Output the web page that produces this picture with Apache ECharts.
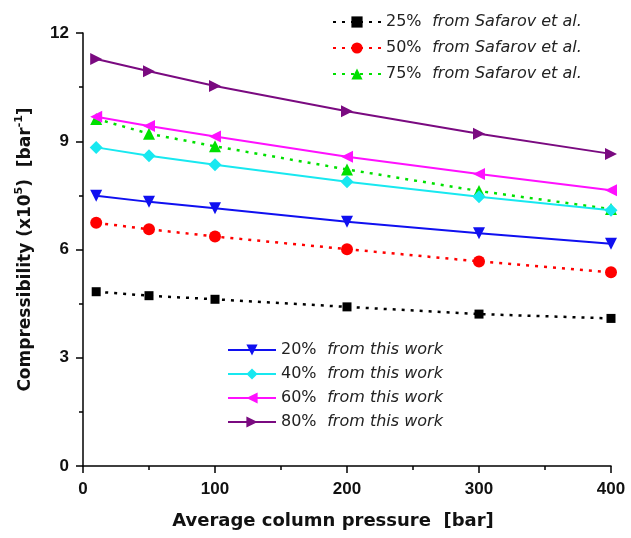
<!DOCTYPE html>
<html>
<head>
<meta charset="utf-8">
<script src="https://cdn.jsdelivr.net/npm/echarts@6/dist/echarts.min.js"></script>
<style>
  html, body { margin: 0; padding: 0; background: #fff; }
  #chart { width: 631px; height: 538px; }
</style>
</head>
<body>
<div id="chart"></div>
<script>
// Compressibility vs average column pressure
const pressure = [10, 50, 100, 200, 300, 400];

// literature (dotted)
const saf25 = [4.83, 4.72, 4.62, 4.41, 4.21, 4.09];
const saf50 = [6.74, 6.56, 6.36, 6.01, 5.67, 5.37];
const saf75 = [9.62, 9.21, 8.86, 8.22, 7.62, 7.12];

// this work (solid)
const work20 = [7.49, 7.32, 7.14, 6.77, 6.45, 6.16];
const work40 = [8.83, 8.60, 8.35, 7.88, 7.46, 7.09];
const work60 = [9.68, 9.42, 9.13, 8.57, 8.09, 7.64];
const work80 = [11.28, 10.94, 10.53, 9.83, 9.21, 8.65];

const safNames  = ['25%', '50%', '75%'];
const workNames = ['20%', '40%', '60%', '80%'];

const FONT  = 'Liberation Sans, Arial, sans-serif';
const WIDE  = 'DejaVu Sans, sans-serif';
const pts = arr => arr.map((v, i) => [pressure[i], v]);

function line(name, data, color, symbol, size, dotted, rot) {
  return {
    name, type: 'line', data: pts(data),
    symbol, symbolSize: size, symbolRotate: rot || 0,
    itemStyle: { color },
    lineStyle: { color, width: dotted ? 2.5 : 2, type: dotted ? [3, 6] : 'solid' },
    z: dotted ? 3 : 4,
  };
}

const series = [
  line('25%', saf25, '#000000', 'rect', 9, true),
  line('50%', saf50, '#ff0000', 'circle', 12, true),
  line('75%', saf75, '#00e000', 'triangle', 12, true),
  line('20%', work20, '#1010f0', 'triangle', 12, false, 180),
  line('40%', work40, '#18e8f0', 'diamond', 13, false),
  line('60%', work60, '#ff10ff', 'triangle', 12, false, 90),
  line('80%', work80, '#7a0a80', 'triangle', 12, false, -90),
];

const legendRich = {
  a: { fontFamily: WIDE, fontSize: 16, color: '#222' },
  b: { fontFamily: WIDE, fontSize: 16, fontStyle: 'italic', color: '#222', padding: [0, 0, 0, 4] },
};

const chart = echarts.init(document.getElementById('chart'), null, { renderer: 'canvas' });
chart.setOption({
  backgroundColor: '#fff', animation: false,
  textStyle: { fontFamily: FONT },
  grid: { left: 83, right: 20, top: 33, bottom: 72, containLabel: false },
  xAxis: {
    type: 'value', min: 0, max: 400, interval: 100,
    name: 'Average column pressure  [bar]', nameLocation: 'middle', nameGap: 46,
    nameTextStyle: { fontFamily: WIDE, fontSize: 18, fontWeight: 'bold', color: '#111', padding: [0, 28, 0, 0] },
    axisLine: { onZero: false, lineStyle: { color: '#000', width: 1.5 } },
    axisTick: { show: true, length: 7, inside: false, lineStyle: { color: '#000', width: 1.5 } },
    minorTick: { show: true, splitNumber: 2, length: 4, lineStyle: { color: '#000', width: 1.5 } },
    axisLabel: { fontFamily: FONT, fontSize: 17, fontWeight: 'bold', color: '#111', margin: 15 },
    splitLine: { show: false },
  },
  yAxis: {
    type: 'value', min: 0, max: 12, interval: 3,
    name: 'Compressibility (x10{s|5})  [bar{s|-1}]', nameLocation: 'middle', nameGap: 45, nameRotate: 90,
    nameTextStyle: {
      fontFamily: WIDE, fontSize: 17, fontWeight: 'bold', color: '#111',
      rich: { s: { fontFamily: WIDE, fontSize: 11, fontWeight: 'bold', color: '#111', verticalAlign: 'top', lineHeight: 24 } },
    },
    axisLine: { onZero: false, lineStyle: { color: '#000', width: 1.5 } },
    axisTick: { show: true, length: 7, lineStyle: { color: '#000', width: 1.5 } },
    minorTick: { show: true, splitNumber: 2, length: 4, lineStyle: { color: '#000', width: 1.5 } },
    axisLabel: { fontFamily: FONT, fontSize: 17, fontWeight: 'bold', color: '#111', margin: 14 },
    splitLine: { show: false },
  },
  legend: [
    {
      data: safNames, orient: 'vertical', left: 327, top: 9,
      itemWidth: 48, itemHeight: 14, itemGap: 10,
      formatter: n => `{a|${n}}  {b|from Safarov et al.}`,
      textStyle: { rich: legendRich },
    },
    {
      data: workNames, orient: 'vertical', left: 222, top: 337,
      itemWidth: 48, itemHeight: 14, itemGap: 8,
      formatter: n => `{a|${n}}  {b|from this work}`,
      textStyle: { rich: legendRich },
    },
  ],
  series,
});
</script>
</body>
</html>
